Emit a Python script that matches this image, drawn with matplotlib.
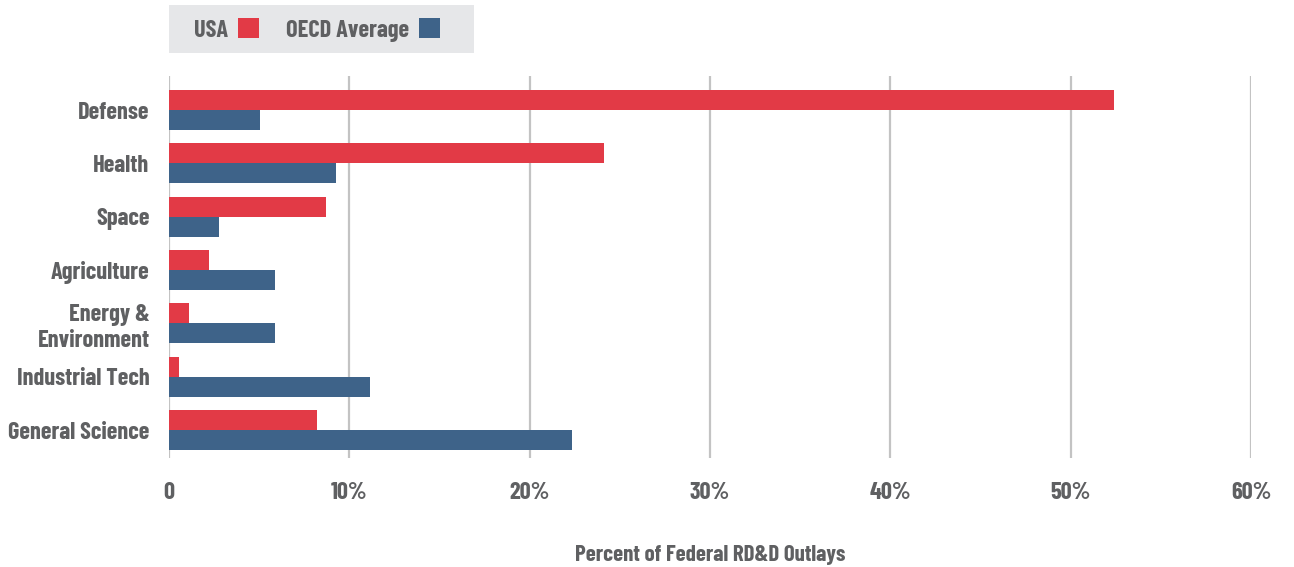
import matplotlib
matplotlib.use("Agg")
import matplotlib.pyplot as plt
from matplotlib.patches import Patch, Rectangle
import numpy as np

categories = ["Defense", "Health", "Space", "Agriculture", "Energy &\nEnvironment",
              "Industrial Tech", "General Science"]
usa = [52.4, 24.1, 8.7, 2.2, 1.1, 0.55, 8.2]
oecd = [5.05, 9.26, 2.77, 5.9, 5.9, 11.15, 22.35]
xticks = [0, 10, 20, 30, 40, 50, 60]
xticklabels = ["0", "10%", "20%", "30%", "40%", "50%", "60%"]

RED = "#e23a46"
BLUE = "#3e6389"
TXT = "#5f6062"
GRID = "#c3c3c3"

plt.rcParams["font.family"] = ["Barlow Condensed", "DejaVu Sans"]
plt.rcParams["font.weight"] = 700

W, H = 1294, 567
fig = plt.figure(figsize=(W/100, H/100), dpi=100)
ax = fig.add_axes([169/W, 1-458/H, (1251-169)/W, (458-76)/H])

y = np.arange(len(categories))
h = 0.375
ax.barh(y - h/2, usa, height=h, color=RED, label="USA", zorder=3)
ax.barh(y + h/2, oecd, height=h, color=BLUE, label="OECD Average", zorder=3)

ax.set_xlim(0, 60)
ax.set_ylim(6.525, -0.64)
ax.set_xticks(xticks)
ax.set_xticklabels(xticklabels)
ax.set_yticks(y)
ax.set_yticklabels(categories, linespacing=1.25)
for s in ax.spines.values():
    s.set_visible(False)
ax.grid(axis="x", color=GRID, linewidth=1.6, zorder=0)
ax.tick_params(axis="both", length=0, labelsize=17.5, labelcolor=TXT)
ax.tick_params(axis="y", pad=14)
ax.tick_params(axis="x", pad=17)
ax.set_xlabel("Percent of Federal RD&D Outlays", fontsize=16.5, color=TXT, labelpad=30,
              fontweight=700)

# legend background band
fig.patches.append(Rectangle((169/W, 1-53/H), (474-169)/W, 48/H, transform=fig.transFigure,
                             facecolor="#e6e7e9", edgecolor="none", zorder=0))
handles = [Patch(facecolor=RED, edgecolor="none"), Patch(facecolor=BLUE, edgecolor="none")]
leg = fig.legend(handles, ["USA", "OECD Average"], ncol=2, markerfirst=False,
                 loc="center left", bbox_to_anchor=(194/W, 1-30/H),
                 frameon=False, fontsize=17.5,
                 handlelength=0.85, handleheight=0.85, handletextpad=0.4,
                 columnspacing=1.15, borderpad=0, borderaxespad=0)
for t in leg.get_texts():
    t.set_color(TXT)

fig.savefig("out.png", dpi=100)
